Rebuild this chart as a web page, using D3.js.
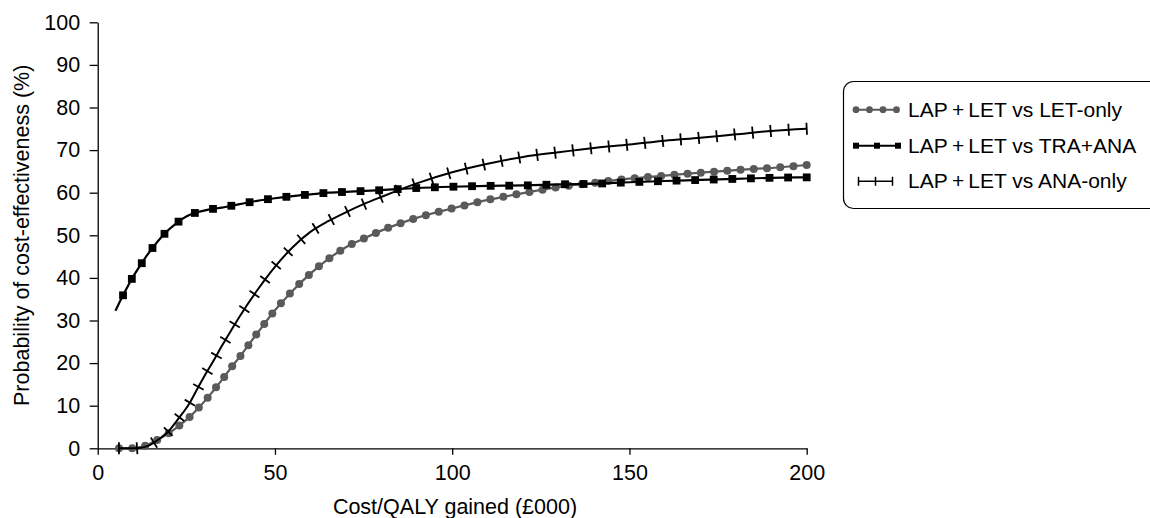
<!DOCTYPE html>
<html>
<head>
<meta charset="utf-8">
<script src="https://cdn.jsdelivr.net/npm/d3@7"></script>
<style>
  html, body { margin: 0; padding: 0; background: #fff; }
  svg { display: block; }
  text { font-family: "Liberation Sans", Arial, Helvetica, sans-serif; fill: #000; }
</style>
</head>
<body>
<svg id="chart" width="1150" height="518"></svg>
<script>
// Willingness-to-pay thresholds, £000 per QALY gained
const wtp = [5, 6, 8, 10, 12, 14, 16, 18, 20, 22, 24, 26, 28, 30, 32.5, 35, 37.5, 40, 45, 50,
             55, 60, 65, 70, 75, 80, 90, 100, 110, 120, 130, 140, 150, 160, 170, 180, 190, 200];

// Probability of cost-effectiveness (%) for each comparison
const letOnly = [null, 0, 0, 0, 0.3, 0.8, 1.6, 2.5, 3.5, 4.7, 6.0, 7.4, 9.1, 10.9, 13.4, 16.0, 18.8, 21.4, 27.0, 32.4,
                 37.0, 41.0, 44.4, 47.2, 49.2, 51.1, 54.1, 56.3, 58.3, 59.9, 61.3, 62.3, 63.3, 64.0, 64.7, 65.3, 65.8, 66.5];
const traAna  = [32.3, 34.0, 37.3, 40.3, 42.9, 45.4, 47.6, 49.6, 51.3, 52.7, 53.9, 54.8, 55.4, 55.8, 56.2, 56.5, 56.9, 57.3, 58.1, 58.7,
                 59.2, 59.6, 60.0, 60.2, 60.4, 60.6, 61.1, 61.4, 61.6, 61.7, 61.95, 62.1, 62.45, 62.75, 63.0, 63.25, 63.5, 63.6];
const anaOnly = [null, 0, 0, 0, 0.1, 0.5, 1.4, 2.6, 4.0, 6.1, 8.3, 10.7, 13.8, 16.8, 20.3, 24.0, 27.5, 30.9, 37.1, 42.6,
                 47.2, 50.8, 53.3, 55.4, 57.3, 59.0, 62.2, 64.8, 66.8, 68.4, 69.5, 70.5, 71.3, 72.2, 72.9, 73.7, 74.5, 75.0];

const seriesNames = ["LAP\u2009+\u2009LET vs LET-only", "LAP\u2009+\u2009LET vs TRA+ANA", "LAP\u2009+\u2009LET vs ANA-only"];
const xTicks = [0, 50, 100, 150, 200];
const yTicks = [0, 10, 20, 30, 40, 50, 60, 70, 80, 90, 100];
const xTitle = "Cost/QALY gained (\u00A3000)";
const yTitle = "Probability of cost-effectiveness (%)";

const FONT = 21.5;
const LEGEND_FONT = 21;
const GREY = "#5a5a5a";

const svg = d3.select("#chart");

const x = d3.scaleLinear().domain([0, 200]).range([97.7, 806.7]);
const y = d3.scaleLinear().domain([0, 100]).range([448.3, 22.3]);

// Axes
const xAxis = svg.append("g")
  .attr("transform", `translate(0,${y(0)})`)
  .call(d3.axisBottom(x).tickValues(xTicks).tickSize(6.5).tickSizeOuter(0).tickPadding(10));
const yAxis = svg.append("g")
  .attr("transform", `translate(${x(0)},0)`)
  .call(d3.axisLeft(y).tickValues(yTicks).tickSize(8).tickSizeOuter(0).tickPadding(9.5));
[xAxis, yAxis].forEach(g => {
  g.selectAll("path, line").attr("stroke", "#000").attr("stroke-width", 1.3);
  g.selectAll("text").style("font-size", FONT + "px").attr("fill", "#000");
});

svg.append("text")
  .attr("x", 455).attr("y", 513.5)
  .attr("text-anchor", "middle")
  .style("font-size", FONT + "px")
  .text(xTitle);
svg.append("text")
  .attr("transform", `translate(28.5,${(y(0) + y(100)) / 2}) rotate(-90)`)
  .attr("text-anchor", "middle")
  .style("font-size", FONT + "px")
  .text(yTitle);

// Curves
const line = d3.line()
  .defined(d => d[1] != null)
  .x(d => x(d[0])).y(d => y(d[1]))
  .curve(d3.curveMonotoneX);

const plot = svg.append("g");

function drawSeries(values, opts) {
  const pts = wtp.map((w, i) => [w, values[i]]).filter(d => d[1] != null);
  const path = plot.append("path")
    .datum(pts)
    .attr("d", line)
    .attr("fill", "none")
    .attr("stroke", opts.color)
    .attr("stroke-width", opts.width);
  // markers spaced evenly along the curve length
  const node = path.node();
  const L = node.getTotalLength();
  const positions = [];
  if (opts.fromEnd) {
    for (let l = L; l >= 0; l -= opts.spacing) positions.push(l);
  } else {
    const n = Math.max(1, Math.round(L / opts.spacing));
    for (let k = 0; k <= n; k++) positions.push(L * k / n);
  }
  const g = plot.append("g");
  positions.forEach(l => {
    const p = node.getPointAtLength(l);
    const a = node.getPointAtLength(Math.max(0, l - 1.5));
    const b = node.getPointAtLength(Math.min(L, l + 1.5));
    const ang = Math.atan2(b.y - a.y, b.x - a.x) * 180 / Math.PI;
    opts.marker(g, p.x, p.y, ang);
  });
}

const markDot = (g, cx, cy) => g.append("circle").attr("cx", cx).attr("cy", cy).attr("r", 4).attr("fill", GREY);
const markSquare = (g, cx, cy) => g.append("rect").attr("x", cx - 3.9).attr("y", cy - 3.9)
  .attr("width", 7.8).attr("height", 7.8).attr("fill", "#000");
const markBar = (g, cx, cy, ang) => g.append("line")
  .attr("x1", 0).attr("x2", 0).attr("y1", -6).attr("y2", 6)
  .attr("transform", `translate(${cx},${cy}) rotate(${ang})`)
  .attr("stroke", "#000").attr("stroke-width", 1.8);

drawSeries(letOnly, { color: GREY, width: 2.2, spacing: 13.3, marker: markDot });
drawSeries(traAna, { color: "#000", width: 2.2, spacing: 18.6, fromEnd: true, marker: markSquare });
drawSeries(anaOnly, { color: "#000", width: 2, spacing: 17.9, marker: markBar });

// Legend
const legend = svg.append("g");
legend.append("rect")
  .attr("x", 843.5).attr("y", 81.5).attr("width", 340).attr("height", 127)
  .attr("rx", 10).attr("ry", 10)
  .attr("fill", "#fff").attr("stroke", "#000").attr("stroke-width", 1.2);

const rowBase = [116.7, 152.7, 188.3];
const symX0 = 855, symX1 = 898;
const legendMarkers = [
  (g, cy) => {
    g.append("line").attr("x1", symX0).attr("x2", symX1).attr("y1", cy).attr("y2", cy).attr("stroke", GREY).attr("stroke-width", 2);
    d3.range(4).forEach(i => g.append("circle").attr("cx", symX0 + 1 + i * 13.5).attr("cy", cy).attr("r", 3.4).attr("fill", GREY));
  },
  (g, cy) => {
    g.append("line").attr("x1", symX0 - 1).attr("x2", symX1 + 1).attr("y1", cy).attr("y2", cy).attr("stroke", "#000").attr("stroke-width", 2);
    d3.range(3).forEach(i => g.append("rect").attr("x", symX0 + 1 + i * 21 - 3).attr("y", cy - 3).attr("width", 6).attr("height", 6).attr("fill", "#000"));
  },
  (g, cy) => {
    g.append("line").attr("x1", 858.5).attr("x2", 892.5).attr("y1", cy).attr("y2", cy).attr("stroke", "#000").attr("stroke-width", 1.5);
    [858.5, 875.5, 892.5].forEach(px => g.append("line").attr("x1", px).attr("x2", px)
      .attr("y1", cy - 4.5).attr("y2", cy + 4.5).attr("stroke", "#000").attr("stroke-width", 1.5));
  }
];

seriesNames.forEach((name, i) => {
  const row = legend.append("g");
  legendMarkers[i](row, rowBase[i] - 7);
  row.append("text")
    .attr("x", 908).attr("y", rowBase[i])
    .style("font-size", LEGEND_FONT + "px")
    .text(name);
});
</script>
</body>
</html>
